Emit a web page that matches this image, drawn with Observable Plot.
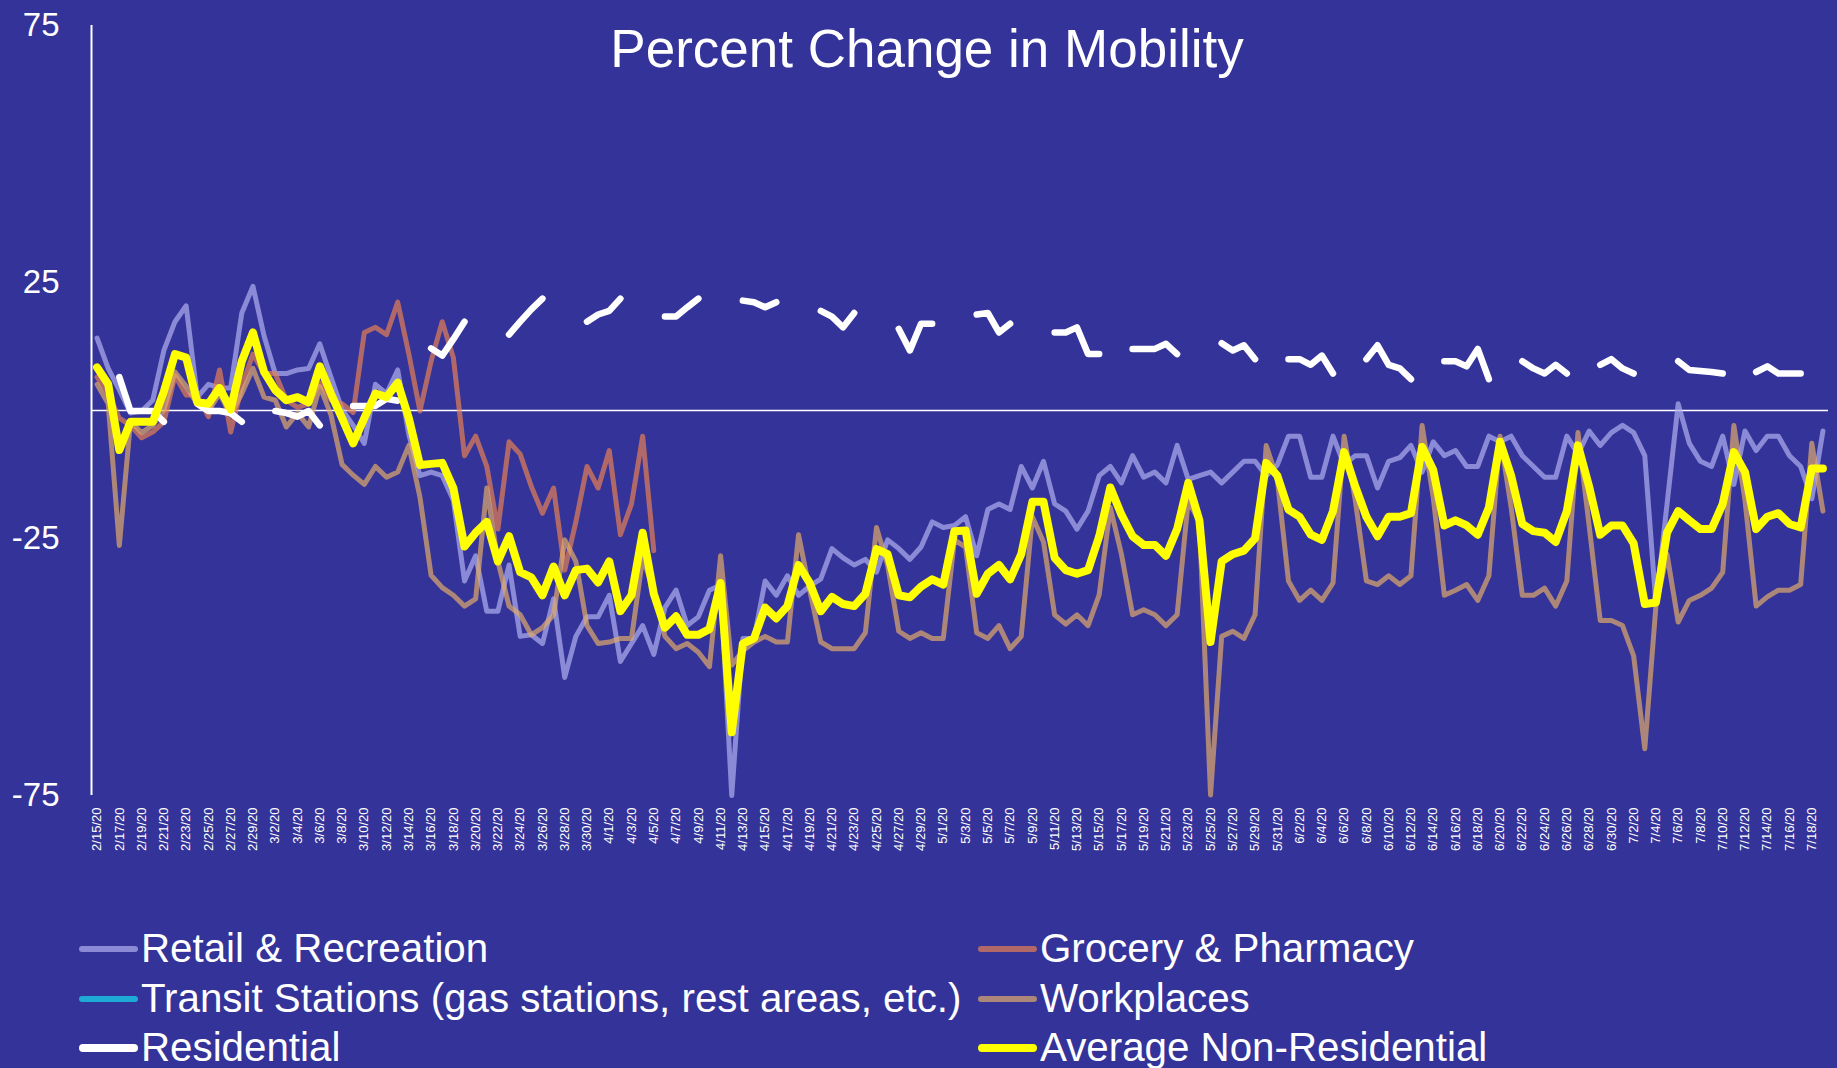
<!DOCTYPE html>
<html>
<head>
<meta charset="utf-8">
<script src="https://cdn.jsdelivr.net/npm/d3@7"></script>
<script src="https://cdn.jsdelivr.net/npm/@observablehq/plot@0.6"></script>
<style>
html, body { margin: 0; padding: 0; background: #343399; }
body { width: 1837px; height: 1068px; overflow: hidden; position: relative; font-family: "Liberation Sans", Arial, sans-serif; }
#chart { position: absolute; left: 0; top: 0; }
.lg-sw { position: absolute; border-radius: 4px; }
.lg-tx { position: absolute; color: #fff; font-size: 40.3px; line-height: 40px; white-space: nowrap; }
</style>
</head>
<body>
<div id="chart"></div>
<div id="legend"></div>
<script>
// First day of the daily series (2/15/20), one value per day through 7/19/20
const startDay = Date.UTC(2020, 1, 15);
const endDayExclusive = Date.UTC(2020, 6, 20);

const title = "Percent Change in Mobility";
const yTicks = [75, 25, -25, -75];

// one row per week (Sat..Fri)
const retail = [
  14.1, 8.2, 4.0, -0.5, -0.1, 2.0, 11.7,
  17.3, 20.4, 2.6, 5.1, 4.4, 4.4, 19.0,
  24.2, 14.5, 7.2, 7.2, 7.9, 8.2, 13.0,
  6.5, 0.2, -2.9, -6.4, 5.1, 3.3, 7.9,
  -4.7, -12.7, -12.0, -12.7, -17.5, -33.2, -28.3,
  -39.1, -39.1, -30.1, -44.0, -43.7, -45.4, -36.7,
  -52.0, -44.0, -40.2, -40.2, -36.0, -48.9, -45.4,
  -41.9, -47.5, -38.4, -35.0, -41.9, -40.2, -35.0,
  -34.0, -75.0, -44.4, -44.4, -33.2, -36.0, -32.2,
  -36.0, -34.2, -32.8, -26.9, -28.7, -30.1, -29.0,
  -31.5, -25.2, -26.9, -29.0, -26.6, -21.7, -22.8,
  -22.4, -20.7, -28.3, -19.3, -18.2, -19.3, -10.9,
  -15.1, -9.9, -18.2, -19.6, -23.1, -19.6, -12.7,
  -10.9, -14.1, -8.8, -13.0, -12.0, -14.1, -6.8,
  -13.4, -12.7, -12.0, -14.1, -12.0, -9.9, -9.9,
  -12.7, -10.6, -5.0, -5.0, -13.0, -13.0, -5.0,
  -10.6, -8.8, -8.8, -15.1, -9.9, -9.2, -6.8,
  -12.0, -6.1, -8.8, -7.8, -10.9, -10.9, -5.0,
  -6.1, -5.0, -8.8, -10.9, -13.0, -13.0, -5.0,
  -8.5, -4.0, -6.8, -4.3, -2.9, -4.3, -8.8,
  -37.7, -18.2, 1.3, -6.4, -9.9, -10.9, -5.0,
  -14.4, -4.0, -7.8, -5.0, -5.0, -8.8, -10.9,
  -17.2, -4.0
];

// grocery data stops on 4/5/20
const grocery = [
  6.5, 3.3, -1.5, -2.9, -5.3, -4.2, -2.2,
  6.8, 3.0, 3.0, -1.2, 7.9, -4.2, 4.7,
  11.0, 7.2, 7.2, 2.0, 0.6, 1.3, 5.4,
  2.0, 1.3, -0.4, 15.2, 16.2, 14.8, 21.1,
  11.0, -0.1, 9.6, 17.3, 10.3, -8.8, -5.0,
  -10.9, -23.1, -6.1, -8.5, -14.8, -20.0, -15.1,
  -31.1, -21.7, -10.9, -15.1, -7.8, -24.2, -18.2,
  -5.0, -27.3
];

// transit stations: no values in the chart (legend only)
const transit = [];

const workplaces = [
  5.1, 1.3, -26.3, -2.2, -4.3, -2.9, 0.2,
  7.5, 4.7, 1.3, -0.1, 3.3, -0.8, 3.3,
  8.2, 2.6, 2.0, -3.2, -0.5, -3.2, 4.7,
  -0.8, -10.5, -12.6, -14.4, -10.9, -13.0, -12.0,
  -6.8, -16.9, -32.1, -34.5, -36.0, -38.1, -36.7,
  -15.1, -29.4, -38.1, -39.8, -43.7, -42.3, -39.8,
  -25.2, -29.4, -41.9, -45.4, -45.1, -44.4, -44.4,
  -28.7, -35.0, -44.0, -46.4, -45.4, -47.1, -49.9,
  -28.3, -49.6, -46.8, -45.1, -44.0, -45.1, -45.1,
  -24.2, -35.0, -45.1, -46.4, -46.4, -46.4, -43.3,
  -22.8, -30.1, -43.0, -44.4, -43.3, -44.4, -44.4,
  -25.2, -26.6, -43.3, -44.4, -41.9, -46.4, -44.0,
  -20.7, -25.6, -39.8, -41.6, -39.8, -41.9, -35.9,
  -18.9, -28.0, -39.8, -38.8, -39.8, -41.9, -39.8,
  -17.5, -21.7, -74.9, -44.0, -43.0, -44.4, -39.8,
  -6.8, -13.4, -33.2, -37.0, -35.0, -37.0, -33.6,
  -5.0, -17.5, -33.2, -33.9, -32.2, -33.9, -32.2,
  -2.9, -16.9, -36.0, -35.0, -33.9, -37.0, -32.2,
  -5.0, -18.9, -36.0, -36.0, -34.6, -38.1, -33.2,
  -4.3, -22.4, -40.9, -40.9, -41.9, -47.8, -65.9,
  -38.1, -28.0, -41.2, -37.0, -36.0, -34.6, -31.5,
  -2.9, -17.5, -38.1, -36.3, -35.0, -35.0, -33.9,
  -6.4, -19.6
];

// residential: weekend (and some other) days are missing -> gaps
const residential = [
  null, null, 6.5, -0.1, -0.1, -0.1, -2.2,
  null, null, 1.3, -0.1, -0.1, -0.5, -2.2,
  null, null, -0.1, -0.5, -1.2, -0.1, -2.9,
  null, null, 0.9, 0.9, 0.9, 2.3, 1.9,
  null, null, 12.1, 10.7, 13.9, 17.3, null,
  null, null, 14.8, 17.3, 19.7, 21.8, null,
  null, null, 17.3, 18.7, 19.4, 21.8, null,
  null, null, 18.3, 18.3, 20.1, 21.8, null,
  null, null, 21.4, 21.1, 20.1, 21.1, null,
  null, null, 19.4, 18.3, 16.2, 19.0, null,
  null, null, 15.9, 11.7, 16.9, 16.9, null,
  null, null, 18.7, 19.0, 15.2, 16.9, null,
  null, null, 15.2, 15.2, 16.2, 11.0, 11.0,
  null, null, 12.0, 12.0, 12.0, 13.0, 11.0,
  null, null, null, 13.1, 11.7, 12.7, 10.0,
  null, null, 10.0, 10.0, 8.9, 10.7, 7.2,
  null, null, 10.0, 12.7, 8.9, 8.2, 6.1,
  null, null, 9.6, 9.6, 8.6, 12.0, 6.1,
  null, null, 9.6, 8.2, 7.2, 8.9, 7.2,
  null, null, 8.9, 10.0, 8.2, 7.2, null,
  null, null, 9.6, 7.9, 7.7, 7.5, 7.2,
  null, null, 7.5, 8.6, 7.2, 7.2, 7.2,
  null, null
];

const averageNonResidential = [
  8.4, 5.1, -7.7, -2.2, -2.2, -2.2, 3.7,
  11.0, 10.3, 1.6, 1.3, 4.4, 0.2, 9.6,
  15.2, 7.5, 4.0, 2.0, 2.6, 1.6, 8.6,
  3.3, -1.5, -6.4, -1.5, 3.3, 2.6, 5.4,
  -1.5, -10.6, -10.4, -10.2, -15.1, -26.5, -23.8,
  -21.7, -29.4, -24.5, -31.5, -32.5, -36.0, -30.4,
  -36.0, -31.1, -30.8, -33.5, -29.4, -39.1, -36.0,
  -23.8, -35.7, -42.3, -40.1, -43.7, -43.7, -42.6,
  -33.6, -62.7, -45.4, -44.4, -38.4, -40.5, -38.1,
  -30.1, -33.6, -39.1, -36.3, -37.7, -38.1, -35.7,
  -27.0, -28.0, -36.0, -36.4, -34.3, -32.9, -33.9,
  -23.5, -23.4, -35.7, -31.8, -30.1, -32.9, -28.0,
  -17.8, -17.8, -28.7, -31.1, -31.8, -31.1, -24.5,
  -15.0, -20.3, -24.5, -26.2, -26.2, -28.3, -23.1,
  -14.1, -21.4, -45.1, -29.4, -28.0, -27.3, -24.9,
  -10.2, -12.7, -19.3, -20.7, -24.2, -25.2, -19.6,
  -8.1, -14.8, -20.7, -24.5, -20.7, -20.7, -20.0,
  -7.1, -11.6, -22.4, -21.4, -22.4, -24.2, -18.9,
  -6.1, -12.7, -22.1, -23.5, -23.8, -25.6, -19.6,
  -6.8, -14.8, -24.2, -22.4, -22.4, -25.9, -37.7,
  -37.4, -23.8, -19.6, -21.4, -23.1, -23.1, -18.2,
  -8.1, -12.0, -23.1, -20.7, -20.0, -22.1, -22.8,
  -11.3, -11.3
];

const seriesNames = ["Retail & Recreation", "Grocery & Pharmacy", "Transit Stations (gas stations, rest areas, etc.)", "Workplaces", "Residential", "Average Non-Residential"];
const bg = "#343399";
const seriesStyle = [
  {values: retail, color: "#afaff0", opacity: 0.7, width: 5},
  {values: grocery, color: "#e57f53", opacity: 0.7, width: 5},
  {values: transit, color: "#1eaad6", opacity: 1, width: 5},
  {values: workplaces, color: "#dfaa6a", opacity: 0.7, width: 5},
  {values: residential, color: "#ffffff", opacity: 1, width: 6.5},
  {values: averageNonResidential, color: "#ffff00", opacity: 1, width: 8}
];

const dates = d3.utcDay.range(new Date(startDay), new Date(endDayExclusive));
const tickDates = dates.filter((d, i) => i % 2 === 0);
const xDomain = [d3.utcHour.offset(dates[0], -12), d3.utcHour.offset(dates[dates.length - 1], 12)];

const lineMarks = seriesStyle.map((s) => {
  const rows = s.values.map((v, i) => ({date: dates[i], value: v}));
  return Plot.line(rows, {
    x: "date", y: "value",
    stroke: s.color, strokeOpacity: s.opacity, strokeWidth: s.width,
    strokeLinejoin: "round", strokeLinecap: "round"
  });
});

const chart = Plot.plot({
  width: 1837,
  height: 880,
  marginTop: 25,
  marginBottom: 85,
  marginLeft: 91,
  marginRight: 9,
  style: {background: bg, color: "white", fontFamily: "'Liberation Sans', Arial, sans-serif", overflow: "visible"},
  x: {type: "utc", domain: xDomain},
  y: {domain: [-75, 75]},
  marks: [
    Plot.axisX({ticks: tickDates, tickFormat: d3.utcFormat("%-m/%-d/%y"), tickRotate: -90, tickSize: 0, tickPadding: 12, fontSize: 13, fill: "white", label: null}),
    Plot.axisY({ticks: yTicks, tickFormat: (d) => String(d), tickSize: 0, tickPadding: 32, fontSize: 33, fill: "white", label: null}),
    Plot.ruleY([0], {stroke: "white", strokeWidth: 1.5}),
    Plot.ruleX([xDomain[0]], {y1: -75, y2: 75, stroke: "white", strokeWidth: 2}),
    ...lineMarks,
    Plot.text([title], {frameAnchor: "top", text: (d) => d, dx: -33, dy: 4, fontSize: 53, fill: "white"})
  ]
});
document.getElementById("chart").appendChild(chart);

// legend (HTML below/around the plot)
const legendPos = [
  {x: 79, baseline: 963}, {x: 978, baseline: 963},
  {x: 79, baseline: 1013}, {x: 978, baseline: 1013},
  {x: 79, baseline: 1062}, {x: 978, baseline: 1062}
];
const legendOrder = [0, 1, 2, 3, 4, 5];
const legend = document.getElementById("legend");
legendOrder.forEach((si, k) => {
  const s = seriesStyle[si];
  const p = legendPos[k];
  const h = s.width >= 6.5 ? 8 : 6;
  const cy = p.baseline - 14;
  const sw = document.createElement("div");
  sw.className = "lg-sw";
  sw.style.left = p.x + "px";
  sw.style.top = (cy - h / 2) + "px";
  sw.style.width = "59px";
  sw.style.height = h + "px";
  sw.style.background = s.color;
  sw.style.opacity = s.opacity;
  legend.appendChild(sw);
  const tx = document.createElement("div");
  tx.className = "lg-tx";
  tx.style.left = (p.x + 62) + "px";
  tx.style.top = (p.baseline - 34) + "px";
  tx.textContent = seriesNames[si];
  legend.appendChild(tx);
});
</script>
</body>
</html>
